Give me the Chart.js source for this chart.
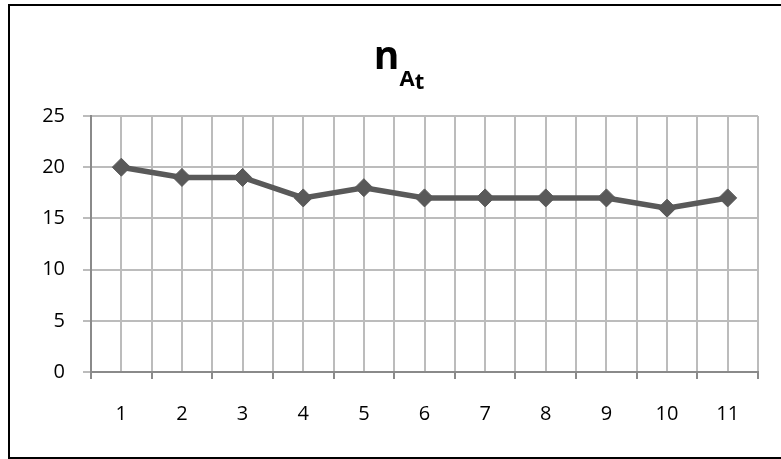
<!DOCTYPE html>
<html>
<head>
<meta charset="utf-8">
<script src="https://cdn.jsdelivr.net/npm/chart.js@4"></script>
<style>
  html, body { margin: 0; padding: 0; background: #fff; }
  #wrap { width: 781px; height: 459px; position: relative; }
</style>
</head>
<body>
<div id="wrap"><canvas id="nChart" width="781" height="459"></canvas></div>
<script>
const categories = ['1', '2', '3', '4', '5', '6', '7', '8', '9', '10', '11'];
const values = [20, 19, 19, 17, 18, 17, 17, 17, 17, 16, 17];
const yTicks = [0, 5, 10, 15, 20, 25];
const titleMain = 'n';
const titleSub = 'A';
const titleSubSub = 't';

const FONT = '"Open Sans", "DejaVu Sans", sans-serif';
const lineColor = '#595959';
const gridColor = '#bcbcbc';
const axisColor = '#8a8a8a';

// frame + title with subscripts (Chart.js title can't do subscripts)
const frameAndTitle = {
  id: 'frameAndTitle',
  afterDraw(chart) {
    const ctx = chart.ctx;
    ctx.save();
    ctx.strokeStyle = '#000';
    ctx.lineWidth = 2;
    ctx.strokeRect(9, 5, 775, 453);

    ctx.fillStyle = '#000';
    ctx.textBaseline = 'alphabetic';
    ctx.textAlign = 'left';
    ctx.font = 'bold 39px ' + FONT;
    const wN = ctx.measureText(titleMain).width;
    ctx.font = 'bold 22px ' + FONT;
    const wA = ctx.measureText(titleSub).width;
    const wT = ctx.measureText(titleSubSub).width;
    let x = 399 - (wN + wA + wT) / 2;
    ctx.font = 'bold 39px ' + FONT;
    ctx.fillText(titleMain, x, 69);
    x += wN;
    ctx.font = 'bold 22px ' + FONT;
    ctx.fillText(titleSub, x, 86);
    x += wA;
    ctx.fillText(titleSubSub, x, 89);
    ctx.restore();
  }
};

const points = categories.map((c, i) => ({ x: Number(c), y: values[i] }));

const config = {
  type: 'line',
  data: {
    datasets: [{
      label: 'nAt',
      data: points,
      borderColor: lineColor,
      backgroundColor: lineColor,
      borderWidth: 5.5,
      pointStyle: 'rectRot',
      pointRadius: 9,
      pointHoverRadius: 9,
      pointBorderWidth: 1,
      pointBorderColor: lineColor,
      pointBackgroundColor: lineColor,
      tension: 0,
      fill: false
    }]
  },
  options: {
    responsive: false,
    animation: false,
    events: [],
    layout: { padding: { top: 116, right: 20, left: 0, bottom: 0 } },
    plugins: {
      legend: { display: false },
      title: { display: false },
      tooltip: { enabled: false }
    },
    scales: {
      x: {
        type: 'linear',
        min: 0.5,
        max: categories.length + 0.5,
        afterBuildTicks(scale) {
          const t = [];
          for (let v = 0.5; v <= categories.length + 0.5; v += 0.5) t.push({ value: v });
          scale.ticks = t;
        },
        afterFit(scale) { scale.height = 87; },
        grid: {
          color: gridColor,
          lineWidth: 2,
          tickLength: 7,
          tickColor: (c) => (c.tick && Number.isInteger(c.tick.value)) ? 'rgba(0,0,0,0)' : axisColor
        },
        border: { color: axisColor, width: 2 },
        ticks: {
          autoSkip: false,
          maxRotation: 0,
          padding: 23,
          color: '#000',
          font: { family: FONT, size: 20 },
          callback: (v) => Number.isInteger(v) ? categories[v - 1] : ''
        }
      },
      y: {
        min: yTicks[0],
        max: yTicks[yTicks.length - 1],
        afterBuildTicks(scale) { scale.ticks = yTicks.map(v => ({ value: v })); },
        afterFit(scale) { scale.width = 91; },
        grid: { color: gridColor, lineWidth: 2, tickLength: 8, tickColor: gridColor },
        border: { color: axisColor, width: 2 },
        ticks: {
          padding: 18,
          color: '#000',
          font: { family: FONT, size: 20 }
        }
      }
    }
  },
  plugins: [frameAndTitle]
};

new Chart(document.getElementById('nChart').getContext('2d'), config);
</script>
</body>
</html>
